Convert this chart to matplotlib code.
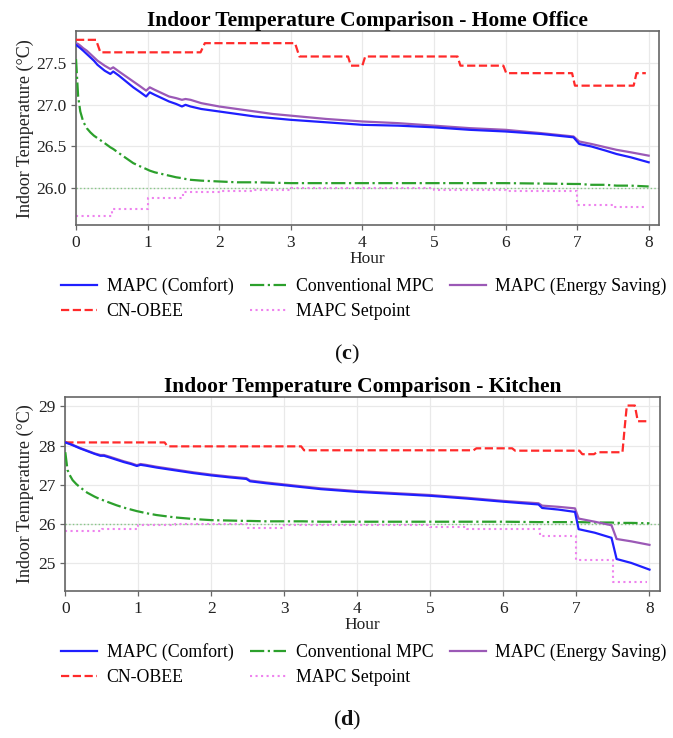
import matplotlib
matplotlib.use("Agg")
import matplotlib.pyplot as plt

plt.rcParams['font.family'] = ['Liberation Serif', 'DejaVu Serif']
plt.rcParams['mathtext.fontset'] = 'custom'
plt.rcParams['mathtext.rm'] = 'Liberation Serif'
plt.rcParams['mathtext.bf'] = 'Liberation Serif:bold'

# ---------------- Home Office data ----------------
office_t = [0, 0.03, 0.06, 0.1, 0.15, 0.2, 0.25, 0.3, 0.4, 0.48, 0.52, 0.6, 0.7, 0.8, 0.9,
            0.98, 1.03, 1.1, 1.2, 1.3, 1.4, 1.48, 1.53, 1.6, 1.75, 2.0, 2.25, 2.5, 2.75, 3.0,
            3.5, 4.0, 4.5, 5.0, 5.5, 6.0, 6.5, 6.95, 7.03, 7.2, 7.4, 7.55, 7.75, 8.0]
office_comfort = [27.72, 27.70, 27.68, 27.65, 27.61, 27.57, 27.53, 27.48, 27.41, 27.37, 27.40,
                  27.35, 27.28, 27.21, 27.15, 27.10, 27.15, 27.12, 27.08, 27.04, 27.01, 26.98,
                  27.00, 26.98, 26.95, 26.92, 26.89, 26.86, 26.84, 26.82, 26.79, 26.76, 26.75,
                  26.73, 26.70, 26.68, 26.65, 26.61, 26.53, 26.50, 26.45, 26.41, 26.37, 26.31]
office_energy = [27.74, 27.73, 27.71, 27.68, 27.65, 27.61, 27.57, 27.53, 27.47, 27.43, 27.45,
                 27.40, 27.34, 27.28, 27.22, 27.17, 27.21, 27.18, 27.14, 27.10, 27.08, 27.06,
                 27.07, 27.06, 27.02, 26.98, 26.95, 26.92, 26.89, 26.87, 26.83, 26.80, 26.78,
                 26.75, 26.72, 26.70, 26.66, 26.62, 26.56, 26.53, 26.49, 26.46, 26.43, 26.39]
office_conv = [27.55, 27.10, 26.92, 26.80, 26.72, 26.67, 26.63, 26.60, 26.54, 26.49, 26.47,
               26.42, 26.36, 26.30, 26.26, 26.23, 26.21, 26.19, 26.17, 26.15, 26.13, 26.12,
               26.11, 26.10, 26.09, 26.08, 26.07, 26.07, 26.065, 26.06, 26.06, 26.06, 26.06,
               26.06, 26.06, 26.06, 26.055, 26.05, 26.05, 26.04, 26.04, 26.03, 26.03, 26.02]
office_cn_t = [0, 0.28, 0.34, 1.74, 1.80, 3.06, 3.12, 3.80, 3.84, 4.00, 4.04, 5.33, 5.37,
               5.97, 6.01, 6.93, 6.97, 7.79, 7.83, 7.96]
office_cn_v = [27.78, 27.78, 27.63, 27.63, 27.74, 27.74, 27.58, 27.58, 27.47, 27.47, 27.58,
               27.58, 27.47, 27.47, 27.38, 27.38, 27.23, 27.23, 27.38, 27.38]
office_sp_t = [0, 0.5, 1.0, 1.5, 2.0, 2.5, 3.0, 5.0, 6.0, 7.0, 7.5, 7.96]
office_sp_v = [25.66, 25.75, 25.88, 25.95, 25.96, 25.98, 26.00, 25.98, 25.97, 25.80, 25.77, 25.77]
office_yticks = [26.0, 26.5, 27.0, 27.5]

# ---------------- Kitchen data ----------------
kitchen_t = [0, 0.03, 0.06, 0.1, 0.15, 0.2, 0.3, 0.4, 0.48, 0.53, 0.6, 0.7, 0.8, 0.9, 0.98,
             1.03, 1.1, 1.25, 1.5, 1.75, 2.0, 2.25, 2.48, 2.53, 2.75, 3.0, 3.25, 3.5, 4.0,
             4.5, 5.0, 5.5, 6.0, 6.48, 6.53, 6.75, 6.98, 7.03, 7.25, 7.48, 7.55, 7.75, 8.0]
kitchen_comfort = [28.08, 28.06, 28.04, 28.01, 27.97, 27.93, 27.86, 27.79, 27.74, 27.74, 27.70,
                   27.64, 27.58, 27.53, 27.48, 27.51, 27.49, 27.44, 27.37, 27.30, 27.24, 27.19,
                   27.15, 27.09, 27.04, 26.99, 26.94, 26.89, 26.82, 26.77, 26.72, 26.65, 26.57,
                   26.50, 26.41, 26.37, 26.31, 25.87, 25.78, 25.65, 25.11, 25.01, 24.84]
kitchen_energy = [28.09, 28.07, 28.05, 28.02, 27.98, 27.94, 27.87, 27.80, 27.76, 27.76, 27.72,
                  27.66, 27.60, 27.55, 27.50, 27.53, 27.51, 27.46, 27.39, 27.32, 27.26, 27.21,
                  27.17, 27.11, 27.06, 27.01, 26.96, 26.91, 26.84, 26.79, 26.74, 26.67, 26.59,
                  26.53, 26.47, 26.44, 26.40, 26.14, 26.06, 25.97, 25.62, 25.56, 25.47]
kitchen_conv = [27.83, 27.38, 27.25, 27.12, 27.02, 26.94, 26.80, 26.70, 26.63, 26.60, 26.55,
                26.48, 26.42, 26.37, 26.33, 26.31, 26.28, 26.23, 26.17, 26.13, 26.10, 26.09,
                26.08, 26.08, 26.07, 26.07, 26.07, 26.06, 26.06, 26.06, 26.06, 26.06, 26.06,
                26.05, 26.05, 26.05, 26.05, 26.05, 26.04, 26.04, 26.03, 26.03, 26.02]
kitchen_cn_t = [0, 1.36, 1.40, 3.23, 3.27, 5.59, 5.63, 6.12, 6.16, 7.04, 7.08, 7.24, 7.28,
                7.63, 7.66, 7.69, 7.80, 7.84, 7.96]
kitchen_cn_v = [28.08, 28.08, 27.98, 27.98, 27.88, 27.88, 27.93, 27.93, 27.87, 27.87, 27.78,
                27.78, 27.83, 27.83, 28.45, 29.02, 29.02, 28.62, 28.62]
kitchen_sp_t = [0, 0.5, 1.0, 1.5, 2.5, 3.0, 5.0, 5.5, 6.5, 7.0, 7.5, 7.96]
kitchen_sp_v = [25.82, 25.88, 25.98, 26.00, 25.90, 25.97, 25.93, 25.88, 25.70, 25.08, 24.52, 24.52]
kitchen_yticks = [25, 26, 27, 28, 29]

comfort_target = 26.0
hour_ticks = [0, 1, 2, 3, 4, 5, 6, 7, 8]

panels = [
    dict(title='Indoor Temperature Comparison - Home Office', t=office_t,
         comfort=office_comfort, energy=office_energy, conv=office_conv,
         cn_t=office_cn_t, cn_v=office_cn_v, sp_t=office_sp_t, sp_v=office_sp_v,
         yticks=office_yticks, fmt='{:.1f}',
         rect=[76, 31, 658.7, 225.3], ylab_x=-0.072, leg_y=299, cap='c', cap_y=354),
    dict(title='Indoor Temperature Comparison - Kitchen', t=kitchen_t,
         comfort=kitchen_comfort, energy=kitchen_energy, conv=kitchen_conv,
         cn_t=kitchen_cn_t, cn_v=kitchen_cn_v, sp_t=kitchen_sp_t, sp_v=kitchen_sp_v,
         yticks=kitchen_yticks, fmt='{:d}',
         rect=[65.3, 396.7, 659.7, 591], ylab_x=-0.052, leg_y=665, cap='d', cap_y=720),
]

W, H = 673, 738
fig = plt.figure(figsize=(W / 100, H / 100), dpi=100)
fig.patch.set_facecolor('white')

for p in panels:
    l, t, r, b = p['rect']
    ax = fig.add_axes([l / W, 1 - b / H, (r - l) / W, (b - t) / H])
    ax.set_facecolor('white')
    ax.grid(True, color='#e9e9e9', lw=0.9)
    ax.set_axisbelow(True)
    ax.axhline(comfort_target, color='#5cb85c', ls=':', lw=1.0, alpha=0.7, zorder=1)
    h_comf, = ax.plot(p['t'], p['comfort'], color='#1f1fff', lw=1.6, label='MAPC (Comfort)', zorder=4)
    h_conv, = ax.plot(p['t'], p['conv'], color='#2ca02c', ls='-.', lw=1.6, label='Conventional MPC', zorder=3)
    h_en, = ax.plot(p['t'], p['energy'], color='#9b59b6', lw=1.6, label='MAPC (Energy Saving)', zorder=3)
    h_cn, = ax.plot(p['cn_t'], p['cn_v'], color='#ff2a2a', ls='--', lw=1.6, label='CN-OBEE', zorder=3)
    h_sp, = ax.plot(p['sp_t'], p['sp_v'], color='#ee82ee', ls=':', lw=1.5,
                    drawstyle='steps-post', label='MAPC Setpoint', zorder=2)
    ax.margins(y=0.05)
    ax.set_xlim(0, 8.14)
    ax.set_xticks(hour_ticks)
    ax.set_yticks(p['yticks'])
    ax.set_yticklabels([p['fmt'].format(v) for v in p['yticks']])
    ax.tick_params(labelsize=12.5, colors='#222222', length=3.5, width=0.9)
    ax.tick_params(axis='both', color='#666666')
    for s in ax.spines.values():
        s.set_color('#666666')
        s.set_linewidth(1.2)
    ax.set_title(p['title'], fontsize=15.5, fontweight='bold', pad=3)
    ax.set_xlabel('Hour', fontsize=12.5, labelpad=0, color='#222222')
    ax.set_ylabel('Indoor Temperature (°C)', fontsize=13, color='#222222')
    ax.yaxis.set_label_coords(p['ylab_x'], 0.5)
    ax.legend(handles=[h_comf, h_cn, h_conv, h_sp, h_en], ncol=3, frameon=False,
              fontsize=12.8, loc='center', bbox_to_anchor=(364 / W, 1 - p['leg_y'] / H),
              bbox_transform=fig.transFigure, handlelength=2.0, handletextpad=0.55,
              columnspacing=0.95, labelspacing=0.45, borderpad=0)
    fig.text(347 / W, 1 - p['cap_y'] / H, r'($\mathbf{' + p['cap'] + '}$)', fontsize=16,
             ha='center', va='center', color='#111111')

fig.savefig('out.png', dpi=100, facecolor='white')
